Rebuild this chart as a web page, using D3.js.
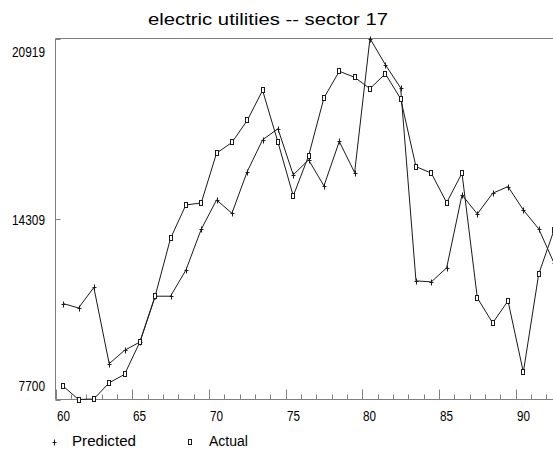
<!DOCTYPE html>
<html><head><meta charset="utf-8">
<script src="https://cdn.jsdelivr.net/npm/d3@7"></script>
<style>
html,body{margin:0;padding:0;background:#fff;overflow:hidden}
text{font-family:"Liberation Sans",Arial,sans-serif;fill:#000}
</style></head>
<body><svg id="c" width="553" height="449"></svg>
<script>
const title = "electric utilities -- sector 17";
const years = [60,61,62,63,64,65,66,67,68,69,70,71,72,73,74,75,76,77,78,79,80,81,82,83,84,85,86,87,88,89,90,91,92];
const predicted = [11214,11052,11802,9011,9499,9804,11482,11482,12437,13931,15007,14519,16047,17210,17614,15925,16476,15521,17148,16010,20919,19964,19109,12044,12007,12521,15191,14493,15253,15496,14640,13950,12694];
const actual = [8188,7700,7720,8313,8618,9804,11493,13601,14824,14897,16722,17111,17919,19021,17126,15154,16623,18742,19719,19498,19083,19627,18716,16230,15988,14908,15988,11420,10502,11310,8702,12290,13906];
const yTicks = [7700,14309,20919];
const xLabels = [60,65,70,75,80,85,90];
const seriesNames = ["Predicted","Actual"];

const svg = d3.select("#c");
const x = d3.scaleLinear().domain([60,93]).range([55.5,561.7]);
const y = d3.scaleLinear().domain([7700,20919]).range([399.5,38.5]);
const frame = "#808080", ink = "#1a1a1a";

// title
svg.append("text").attr("x",148).attr("y",25)
  .style("font-size","17px").attr("textLength",240).attr("lengthAdjust","spacingAndGlyphs").text(title);

// frame
svg.append("line").attr("x1",x(60)).attr("x2",553).attr("y1",y(20919)).attr("y2",y(20919)).attr("stroke",frame);
svg.append("line").attr("x1",x(60)).attr("x2",x(60)).attr("y1",y(20919)).attr("y2",y(7700)).attr("stroke",frame);
svg.append("line").attr("x1",x(60)).attr("x2",553).attr("y1",y(7700)).attr("y2",y(7700)).attr("stroke",frame);

// x ticks
const xt = d3.range(60,93).filter(v => x(v) < 553);
svg.selectAll(".xt").data(xt).join("line")
  .attr("x1",d=>Math.round(x(d))+0.5).attr("x2",d=>Math.round(x(d))+0.5)
  .attr("y1",y(7700)).attr("y2",d=> y(7700) - (d%5===0?10:5))
  .attr("stroke",frame);
svg.selectAll(".xl").data(xLabels).join("text")
  .attr("x",d=>Math.round(x(d))+1).attr("y",421).style("font-size","15px")
  .attr("textLength",13).attr("lengthAdjust","spacingAndGlyphs").text(d=>d);

// y ticks & labels
svg.selectAll(".yt").data(yTicks).join("line")
  .attr("x1",x(60)).attr("x2",x(60)+5).attr("y1",d=>Math.round(y(d))+0.5).attr("y2",d=>Math.round(y(d))+0.5)
  .attr("stroke",frame);
const yOff = {7700:-9, 14309:6, 20919:18};
svg.selectAll(".yl").data(yTicks).join("text")
  .attr("x",d=> 45 - (String(d).length*6.6)).attr("y",d=>y(d)+yOff[d]).style("font-size","15px")
  .attr("textLength",d=>String(d).length*6.6).attr("lengthAdjust","spacingAndGlyphs").text(d=>d);

// lines
const line = d3.line().x((d,i)=>x(years[i]+0.5)).y(d=>y(d));
svg.append("path").datum(predicted).attr("d",line).attr("fill","none").attr("stroke",ink).attr("stroke-width",1);
svg.append("path").datum(actual).attr("d",line).attr("fill","none").attr("stroke",ink).attr("stroke-width",1);

// markers
const plus = "M-2,0H2M0,-3V3";
svg.selectAll(".pm").data(predicted).join("path")
  .attr("transform",(d,i)=>`translate(${Math.round(x(years[i]+0.5))+0.5},${Math.round(y(d))+0.5})`)
  .attr("d",plus).attr("stroke",ink).attr("fill","none");
svg.selectAll(".am").data(actual).join("rect")
  .attr("x",(d,i)=>Math.round(x(years[i]+0.5))-1.5).attr("y",d=>Math.round(y(d))-2.5)
  .attr("width",3).attr("height",5).attr("fill","#fff").attr("stroke",ink);

// legend
svg.append("path").attr("transform","translate(54.5,442.5)").attr("d",plus).attr("stroke",ink).attr("fill","none");
svg.append("text").attr("x",72).attr("y",445.5).style("font-size","14px")
  .attr("textLength",64).attr("lengthAdjust","spacingAndGlyphs").text(seriesNames[0]);
svg.append("rect").attr("x",188.5).attr("y",439.5).attr("width",3).attr("height",5).attr("fill","#fff").attr("stroke",ink);
svg.append("text").attr("x",209).attr("y",445.5).style("font-size","14px")
  .attr("textLength",39).attr("lengthAdjust","spacingAndGlyphs").text(seriesNames[1]);
</script></body></html>
